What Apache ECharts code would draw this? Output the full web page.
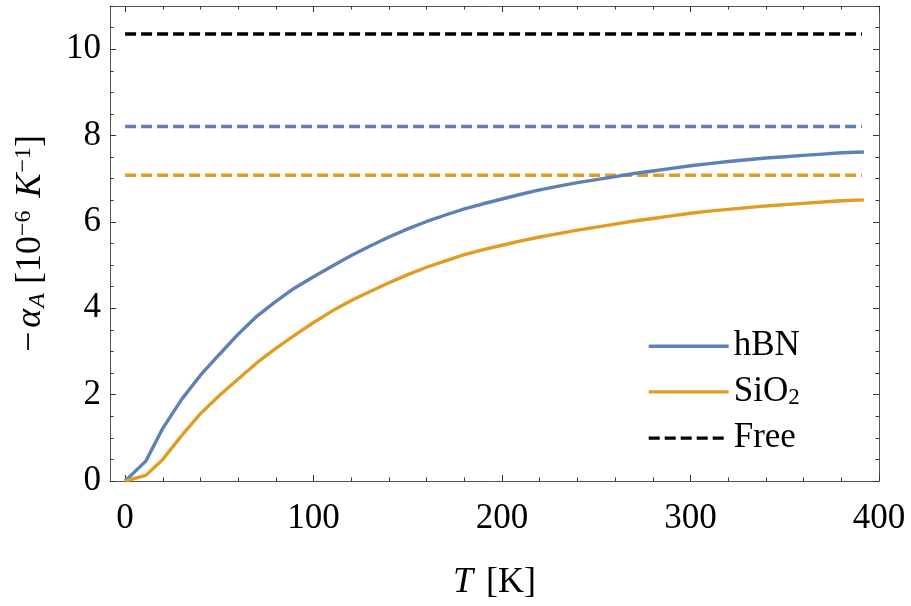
<!DOCTYPE html>
<html>
<head>
<meta charset="utf-8">
<script src="https://cdn.jsdelivr.net/npm/echarts@6/dist/echarts.min.js"></script>
<style>
html,body{margin:0;padding:0;background:#fff;}
#chart{width:911px;height:606px;}
</style>
</head>
<body>
<div id="chart"></div>
<script>
// ---- data ----
const temps = [0,11,20,30,40,50,60,70,80,90,100,110,120,130,140,150,160,170,180,190,200,210,220,230,240,250,260,270,280,290,300,310,320,330,340,350,360,370,380,392];
const hBN  = [0,0.46,1.22,1.89,2.45,2.93,3.40,3.82,4.16,4.47,4.73,4.98,5.22,5.44,5.65,5.84,6.01,6.16,6.30,6.42,6.53,6.64,6.74,6.83,6.91,6.98,7.05,7.12,7.18,7.24,7.30,7.35,7.40,7.44,7.48,7.51,7.54,7.57,7.60,7.62];
const SiO2 = [0,0.13,0.50,1.05,1.56,1.98,2.36,2.74,3.07,3.38,3.67,3.94,4.18,4.39,4.59,4.78,4.95,5.10,5.24,5.36,5.46,5.56,5.65,5.73,5.81,5.88,5.95,6.02,6.08,6.14,6.20,6.25,6.29,6.33,6.37,6.40,6.43,6.46,6.49,6.51];
const freeLevel = 10.35;
const hBNLevel = 8.21;
const SiO2Level = 7.08;
const levelRange = [0, 391];
const xTicks = [0,100,200,300,400];
const xMinorTicks = [20,40,60,80,120,140,160,180,220,240,260,280,320,340,360,380];
const yTicks = [0,2,4,6,8,10];
const yMinorTicks = [0.5,1,1.5,2.5,3,3.5,4.5,5,5.5,6.5,7,7.5,8.5,9,9.5,10.5,11];
const legendNames = ['hBN','SiO2','Free'];

const BLUE = '#5E81B5', ORANGE = '#E19C24', BLACK = '#000';
const FONT = 'Liberation Serif';
const XMIN = -8, XMAX = 400, YMIN = 0, YMAX = 11;
const LW = 3.4;

function pairs(xs, ys){ return xs.map((x,i)=>[x, ys[i]]); }
function level(v){ return levelRange.map(x=>[x, v]); }

const lineCol = '#555';
function xAx(pos, values, len, showLine, labels, extra){
  return Object.assign({
    type:'value', min:XMIN, max:XMAX, position:pos,
    axisLine:{show:showLine, onZero:false, lineStyle:{color:lineCol, width:1}},
    axisTick:{show:true, inside:true, length:len, customValues:values, lineStyle:{color:'#333', width:1}},
    axisLabel:{show:labels, customValues:values, fontFamily:FONT, fontSize:35, color:'#000', margin:20},
    splitLine:{show:false}
  }, extra||{});
}
function yAx(pos, values, len, showLine, labels, extra){
  return Object.assign({
    type:'value', min:YMIN, max:YMAX, position:pos,
    axisLine:{show:showLine, onZero:false, lineStyle:{color:lineCol, width:1}},
    axisTick:{show:true, inside:true, length:len, customValues:values, lineStyle:{color:'#333', width:1}},
    axisLabel:{show:labels, customValues:values, fontFamily:FONT, fontSize:35, color:'#000', margin:9},
    splitLine:{show:false}
  }, extra||{});
}

const chart = echarts.init(document.getElementById('chart'), null, {renderer:'canvas'});
chart.setOption({
  backgroundColor:'#fff',
  animation:false,
  grid:{left:110, right:32, top:6, bottom:124, containLabel:false},
  legend:{
    data:legendNames, orient:'vertical', left:642, top:323.7,
    itemWidth:80, itemHeight:30, itemGap:10.7,
    itemStyle:{opacity:0},
    lineStyle:{width:LW},
    formatter:function(n){ return n==='SiO2' ? '{m|SiO}{sub|2}' : '{m|' + n + '}'; },
    textStyle:{fontFamily:FONT, fontSize:35, color:'#000', padding:[0,0,0,0],
      rich:{
        m:{fontFamily:FONT, fontSize:35, color:'#000', lineHeight:36},
        sub:{fontFamily:FONT, fontSize:23, color:'#000', verticalAlign:'bottom', lineHeight:14}
      }}
  },
  xAxis:[
    xAx('bottom', xTicks, 6, true, true, {
      name:'{i|T} [K]', nameLocation:'middle', nameGap:84,
      nameTextStyle:{fontFamily:FONT, fontSize:36, color:'#000',
        rich:{i:{fontFamily:FONT, fontSize:36, fontStyle:'italic', color:'#000', padding:[0,4,0,0]}}}
    }),
    xAx('bottom', xMinorTicks, 3.5, false, false),
    xAx('top', xTicks, 6, true, false),
    xAx('top', xMinorTicks, 3.5, false, false)
  ],
  yAxis:[
    yAx('left', yTicks, 6, true, true, {
      name:'{t|−}{i|α}{sub|A}{t| [10}{sup|−6}{t| }{i|K}{sup|−1}{t|]}',
      nameLocation:'middle', nameGap:60, nameRotate:90,
      nameTextStyle:{fontFamily:FONT, fontSize:36, color:'#000',
        rich:{
          t:{fontFamily:FONT, fontSize:36, color:'#000', lineHeight:38},
          i:{fontFamily:FONT, fontSize:36, fontStyle:'italic', color:'#000', lineHeight:38, padding:[0,1,0,4]},
          sub:{fontFamily:FONT, fontSize:24, fontStyle:'italic', color:'#000', verticalAlign:'bottom', lineHeight:12},
          sup:{fontFamily:FONT, fontSize:24, color:'#000', verticalAlign:'top', lineHeight:16}
        }}
    }),
    yAx('left', yMinorTicks, 3.5, false, false),
    yAx('right', yTicks, 6, true, false),
    yAx('right', yMinorTicks, 3.5, false, false)
  ],
  series:[
    {name:'SiO2 limit', type:'line', symbol:'none', data:level(SiO2Level), xAxisIndex:0, yAxisIndex:0,
     lineStyle:{color:ORANGE, width:LW, type:[11,5]}, itemStyle:{color:ORANGE}, z:2},
    {name:'hBN limit', type:'line', symbol:'none', data:level(hBNLevel), xAxisIndex:0, yAxisIndex:0,
     lineStyle:{color:BLUE, width:LW, type:[11,5]}, itemStyle:{color:BLUE}, z:2},
    {name:'hBN', type:'line', symbol:'none', data:pairs(temps, hBN), xAxisIndex:0, yAxisIndex:0,
     lineStyle:{color:BLUE, width:LW}, itemStyle:{color:BLUE}, z:3},
    {name:'SiO2', type:'line', symbol:'none', data:pairs(temps, SiO2), xAxisIndex:0, yAxisIndex:0,
     lineStyle:{color:ORANGE, width:LW}, itemStyle:{color:ORANGE}, z:3},
    {name:'Free', type:'line', symbol:'none', data:level(freeLevel), xAxisIndex:0, yAxisIndex:0,
     lineStyle:{color:BLACK, width:LW, type:[11,5]}, itemStyle:{color:BLACK}, z:2}
  ]
});
</script>
</body>
</html>
